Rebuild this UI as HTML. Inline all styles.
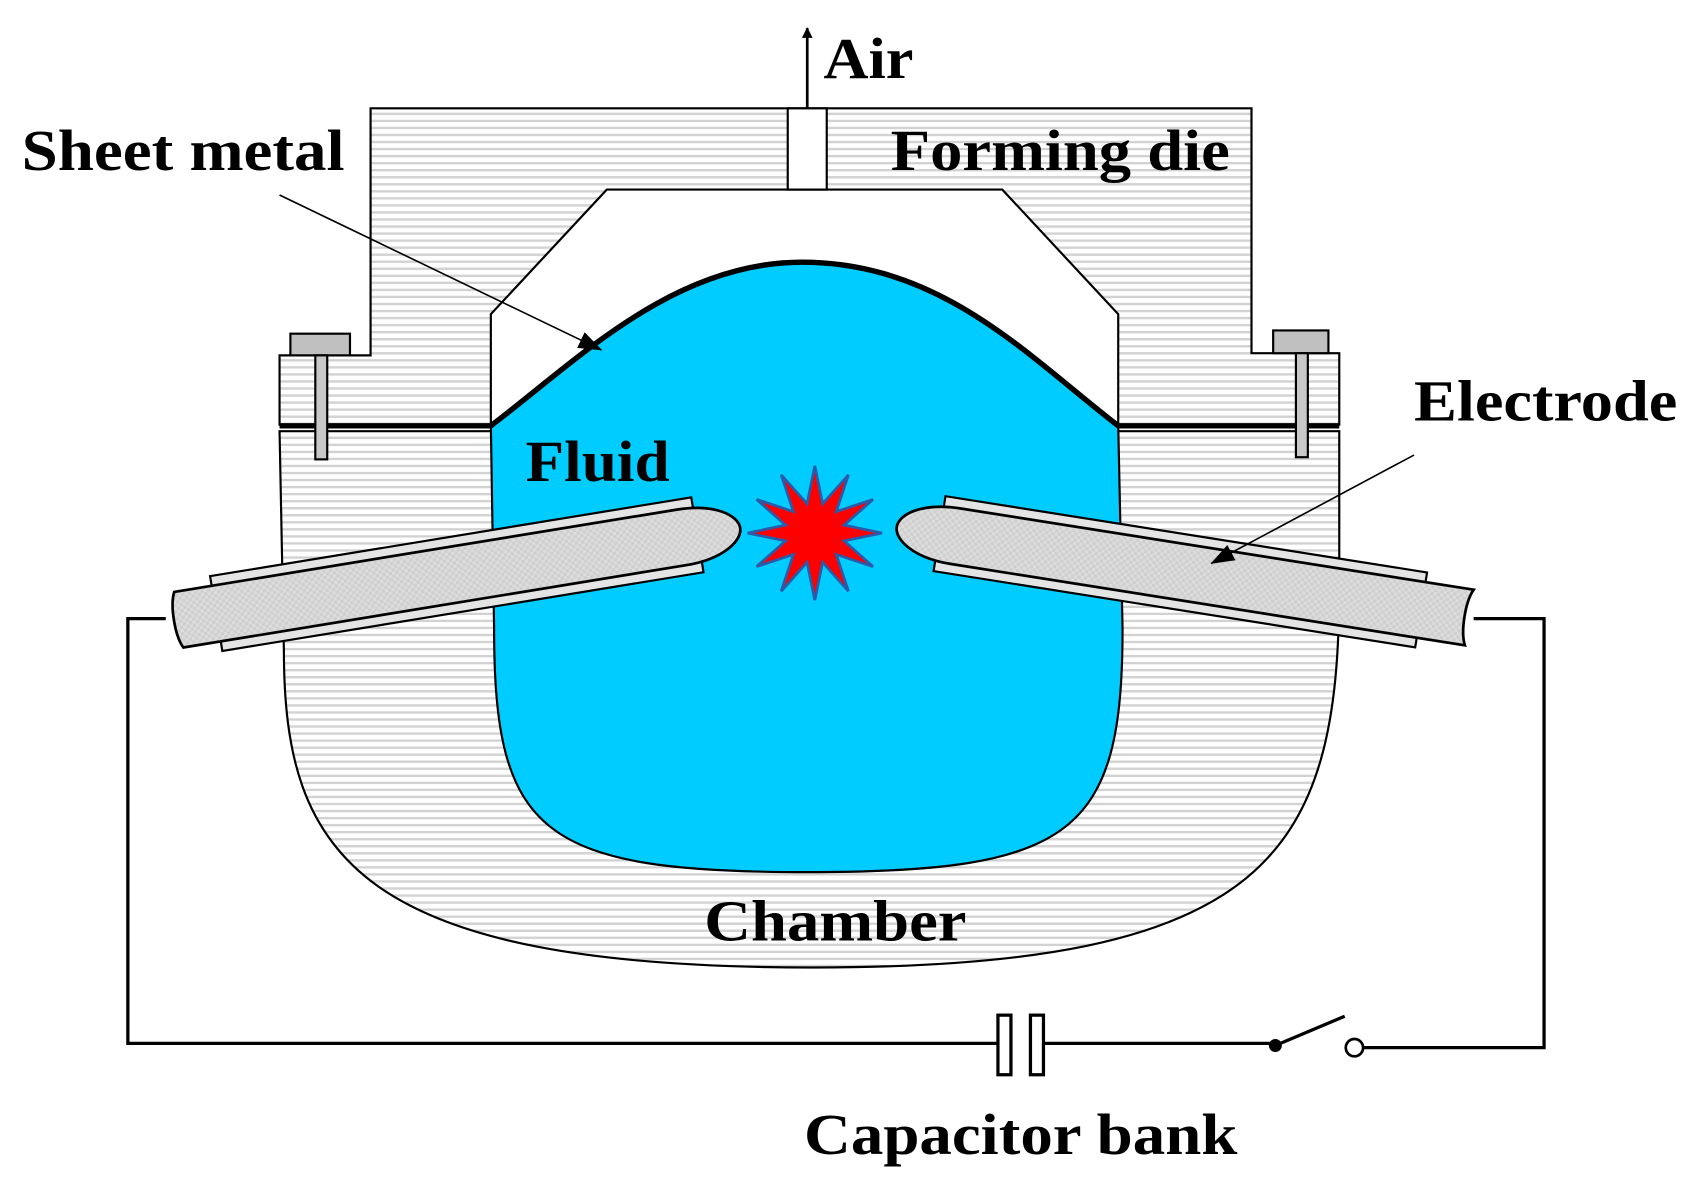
<!DOCTYPE html>
<html><head><meta charset="utf-8"><style>
html,body{margin:0;padding:0;background:#fff;}
svg{display:block;}
text{font-family:"Liberation Serif",serif;font-weight:bold;fill:#000;}
</style></head><body>
<svg width="1699" height="1195" viewBox="0 0 1568 1103" preserveAspectRatio="none" xmlns="http://www.w3.org/2000/svg">
<defs>
<pattern id="h" width="10" height="6.5" patternUnits="userSpaceOnUse">
<rect width="10" height="6.5" fill="#fff"/>
<rect y="0" width="10" height="2.2" fill="#d2d2d2"/>
</pattern>
<pattern id="d" width="6" height="6" patternUnits="userSpaceOnUse">
<rect width="6" height="6" fill="#dcdcdc"/>
<rect width="3" height="3" fill="#cfcfcf"/>
<rect x="3" y="3" width="3" height="3" fill="#cfcfcf"/>
</pattern>
<marker id="a" markerWidth="10" markerHeight="10" refX="9" refY="5" orient="auto" markerUnits="userSpaceOnUse" viewBox="0 0 10 10">
<path d="M0,0 L10,5 L0,10 Z" fill="#000"/>
</marker>
<marker id="a2" markerWidth="22" markerHeight="16" refX="21" refY="8" orient="auto" markerUnits="userSpaceOnUse" viewBox="0 0 22 16">
<path d="M0,0 L22,8 L0,16 Z" fill="#000"/>
</marker>
</defs>

<!-- Chamber -->
<path d="M258,398 H1236 V540 C1236,790 1170,893 750,893 C330,893 262,790 262,600 Z" fill="url(#h)" stroke="#000" stroke-width="2"/>

<!-- Forming die -->
<path d="M342,100 H1155 V326 H1236 V392 H258 V328 H342 Z" fill="url(#h)" stroke="#000" stroke-width="2"/>
<path d="M453,392 V290 L560,175 H925 L1032,290 V392 Z" fill="#fff" stroke="#000" stroke-width="2"/>
<rect x="727" y="100" width="36" height="75" fill="#fff" stroke="#000" stroke-width="2"/>

<!-- Fluid -->
<path d="M453,392 C530,335 620,242 740,242 C870,242 950,330 1032,392 L1036,580 C1036,770 990,805 745,805 C500,805 456,770 456,580 Z" fill="#00ccff" stroke="#000" stroke-width="2"/>
<!-- Sheet metal -->
<path d="M258,393 H453 C530,335 620,242 740,242 C870,242 950,330 1032,393 H1236" fill="none" stroke="#000" stroke-width="5"/>

<!-- bolts -->
<rect x="268" y="308" width="55" height="20" fill="#c0c0c0" stroke="#000" stroke-width="2"/>
<rect x="291" y="328" width="11" height="96" fill="#c8c8c8" stroke="#000" stroke-width="2"/>
<rect x="1175" y="305" width="51" height="21" fill="#c0c0c0" stroke="#000" stroke-width="2"/>
<rect x="1196" y="326" width="11" height="96" fill="#c8c8c8" stroke="#000" stroke-width="2"/>

<!-- Left electrode -->
<g transform="translate(165,572) rotate(-9.3)">
<rect x="35" y="-35" width="450" height="70" fill="#e4e4e4" stroke="#000" stroke-width="2"/>
<path d="M0,-26 H470 C505,-26 525,-12 525,0 C525,12 505,26 470,26 H0 C-6,14 -6,-14 0,-26 Z" fill="url(#d)" stroke="#000" stroke-width="2.5"/>
</g>
<!-- Right electrode -->
<g transform="translate(1356,570) rotate(9) scale(-1,1)">
<rect x="45" y="-35" width="450" height="70" fill="#e4e4e4" stroke="#000" stroke-width="2"/>
<path d="M0,-26 H480 C515,-26 535,-12 535,0 C535,12 515,26 480,26 H0 C6,14 6,-14 0,-26 Z" fill="url(#d)" stroke="#000" stroke-width="2.5"/>
</g>

<!-- Spark -->
<polygon points="752,430 759.2,465 783,438.3 771.8,472.2 805.7,461 779,484.7 814,492 779,499.3 805.7,523 771.8,511.8 783,545.7 759.2,519 752,554 744.8,519 721,545.7 732.2,511.8 698.3,523 725,499.3 690,492 725,484.7 698.3,461 732.2,472.2 721,438.3 744.8,465" fill="#ff0000" stroke="#2a5aa8" stroke-width="2.5" stroke-linejoin="miter"/>

<!-- Circuit -->
<path d="M153,571 H118 V963 H921 M963,963 H1175" fill="none" stroke="#000" stroke-width="3"/>
<rect x="921" y="937" width="12" height="55" fill="#fff" stroke="#000" stroke-width="3"/>
<rect x="951" y="937" width="12" height="55" fill="#fff" stroke="#000" stroke-width="3"/>
<circle cx="1177" cy="965" r="6" fill="#000"/>
<line x1="1177" y1="965" x2="1241" y2="938" stroke="#000" stroke-width="3"/>
<circle cx="1250" cy="967" r="8" fill="#fff" stroke="#000" stroke-width="2.5"/>
<path d="M1258,967 H1425 V571 H1360" fill="none" stroke="#000" stroke-width="3"/>

<!-- Air arrow -->
<line x1="745" y1="100" x2="745" y2="26" stroke="#000" stroke-width="2.5" marker-end="url(#a)"/>

<!-- Leaders -->
<line x1="258" y1="180" x2="555" y2="323" stroke="#000" stroke-width="1.5" marker-end="url(#a2)"/>
<line x1="1305" y1="420" x2="1118" y2="520" stroke="#000" stroke-width="1.5" marker-end="url(#a2)"/>

<!-- Labels -->
<text x="760" y="72" font-size="54" textLength="83" lengthAdjust="spacingAndGlyphs">Air</text>
<text x="20" y="157" font-size="54" textLength="298" lengthAdjust="spacingAndGlyphs">Sheet metal</text>
<text x="822" y="157" font-size="54" textLength="313" lengthAdjust="spacingAndGlyphs">Forming die</text>
<text x="1305" y="388" font-size="54" textLength="243" lengthAdjust="spacingAndGlyphs">Electrode</text>
<text x="485" y="444" font-size="54" textLength="133" lengthAdjust="spacingAndGlyphs">Fluid</text>
<text x="650" y="868" font-size="54" textLength="242" lengthAdjust="spacingAndGlyphs">Chamber</text>
<text x="742" y="1065" font-size="54" textLength="400" lengthAdjust="spacingAndGlyphs">Capacitor bank</text>
</svg>
</body></html>
